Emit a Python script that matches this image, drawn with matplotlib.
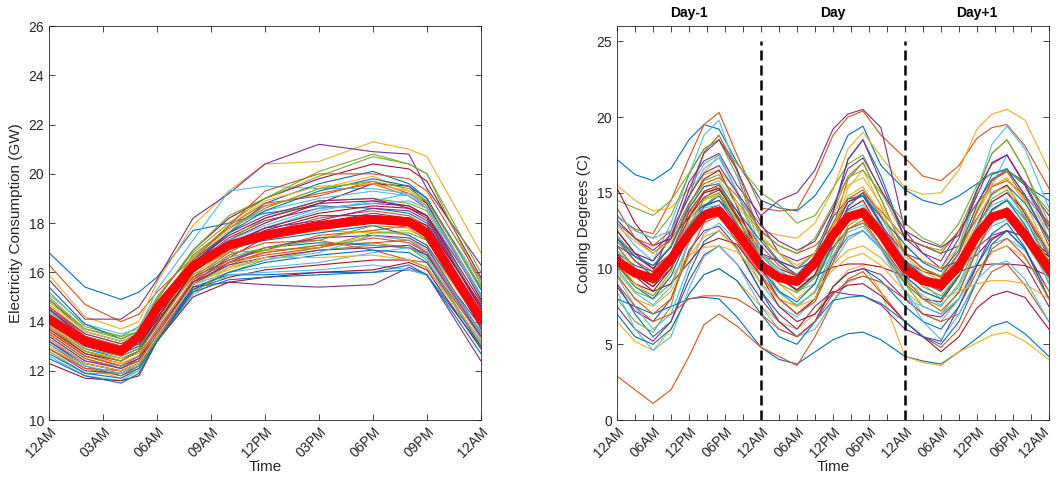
import matplotlib
matplotlib.use("Agg")
import matplotlib.pyplot as plt
from matplotlib.ticker import MultipleLocator
from matplotlib.transforms import ScaledTranslation

# MATLAB default line colours
COLORS = ['#0072BD', '#D95319', '#EDB120', '#7E2F8E', '#77AC30', '#4DBEEE', '#A2142F']

# ---- left panel: electricity consumption (GW), one day ----
HOURS_LEFT = [0, 2, 4, 5, 6, 8, 10, 12, 15, 18, 20, 21, 24]
LEFT_TICKS = ['12AM', '03AM', '06AM', '09AM', '12PM', '03PM', '06PM', '09PM', '12AM']

load_mean = [14.1, 13.2, 12.8, 13.4, 14.55, 16.25, 17.1, 17.5, 17.9, 18.15, 18.05, 17.6, 14.1]

load_days = [
    [16.8, 15.4, 14.9, 15.2, 15.8, 17.7, 18.0, 18.4, 18.7, 18.6, 18.4, 18.0, 14.6],
    [16.3, 14.7, 14.0, 14.3, 15.2, 16.6, 17.8, 18.7, 19.2, 19.6, 19.1, 18.6, 15.0],
    [15.9, 14.2, 13.7, 14.0, 15.6, 17.9, 19.3, 20.4, 20.5, 21.3, 21.0, 20.7, 16.8],
    [15.7, 14.1, 14.1, 14.6, 15.7, 18.2, 19.2, 20.4, 21.2, 20.9, 20.8, 19.4, 16.3],
    [15.2, 13.8, 13.4, 13.8, 15.0, 16.8, 18.0, 19.0, 20.1, 20.8, 20.4, 20.0, 16.0],
    [15.1, 13.9, 13.5, 13.7, 15.3, 17.3, 19.3, 19.5, 19.4, 19.4, 19.2, 18.9, 15.6],
    [14.9, 13.6, 13.2, 13.5, 14.9, 16.9, 18.2, 19.0, 19.8, 20.4, 20.2, 19.7, 15.8],
    [15.4, 13.9, 13.3, 13.6, 14.8, 16.4, 17.6, 18.8, 19.6, 20.1, 19.6, 19.0, 15.4],
    [14.6, 13.4, 13.0, 13.3, 14.7, 16.6, 17.9, 18.8, 19.1, 19.7, 19.2, 18.8, 15.1],
    [14.7, 13.5, 13.1, 13.5, 14.8, 16.5, 17.7, 18.6, 19.4, 19.9, 19.3, 18.7, 14.9],
    [14.5, 13.4, 13.0, 13.2, 14.5, 16.3, 17.4, 18.1, 18.6, 18.8, 18.7, 18.3, 14.6],
    [14.4, 13.2, 12.9, 13.2, 14.4, 16.2, 17.3, 18.2, 18.9, 19.0, 18.8, 18.5, 14.5],
    [14.2, 13.0, 12.7, 13.0, 14.5, 16.1, 17.0, 17.8, 18.5, 18.9, 19.2, 18.7, 14.3],
    [14.1, 13.0, 12.6, 12.9, 14.3, 16.0, 17.3, 18.0, 18.8, 19.6, 19.5, 18.8, 14.9],
    [14.0, 12.9, 12.5, 12.8, 14.2, 15.8, 16.5, 17.0, 17.2, 17.1, 17.0, 16.7, 13.8],
    [13.8, 12.7, 12.3, 12.6, 14.0, 15.8, 16.8, 17.6, 18.2, 18.5, 18.3, 17.9, 14.0],
    [13.7, 12.6, 12.3, 12.6, 13.4, 15.6, 16.1, 16.6, 17.0, 17.5, 17.3, 17.0, 13.9],
    [13.6, 12.6, 12.2, 12.5, 13.4, 15.6, 16.6, 17.4, 18.0, 18.4, 18.2, 17.8, 13.7],
    [13.5, 12.5, 12.1, 12.4, 13.3, 15.5, 16.3, 16.8, 17.1, 17.2, 17.0, 16.8, 13.6],
    [13.4, 12.4, 12.2, 12.4, 13.3, 15.5, 16.0, 16.2, 16.4, 16.8, 17.0, 16.6, 13.3],
    [13.3, 12.3, 12.0, 12.3, 13.3, 15.3, 15.8, 16.1, 16.3, 16.5, 16.5, 16.2, 13.2],
    [13.2, 12.2, 11.8, 12.2, 13.2, 15.4, 15.9, 15.9, 16.0, 16.0, 16.1, 15.9, 13.0],
    [13.1, 12.1, 11.8, 12.1, 13.3, 15.5, 16.4, 16.7, 17.0, 17.4, 17.2, 16.8, 13.5],
    [13.0, 12.1, 11.7, 12.0, 13.3, 15.2, 16.2, 16.9, 17.4, 17.7, 17.5, 17.1, 13.4],
    [12.9, 12.0, 11.9, 12.2, 13.4, 15.4, 15.6, 15.5, 15.4, 15.5, 16.2, 15.9, 12.4],
    [12.8, 11.9, 11.9, 12.2, 13.3, 15.2, 16.0, 16.5, 16.9, 17.1, 17.0, 16.5, 13.1],
    [12.6, 11.8, 11.6, 12.0, 13.2, 15.1, 15.9, 16.0, 16.1, 16.3, 16.1, 15.9, 13.2],
    [12.3, 11.7, 11.6, 11.8, 13.2, 15.0, 15.6, 15.8, 16.0, 16.1, 16.4, 16.1, 12.9],
    [12.5, 11.8, 11.5, 11.9, 13.2, 15.2, 15.7, 15.8, 15.9, 16.0, 16.3, 15.9, 12.7],
    [12.9, 12.1, 12.0, 12.3, 13.5, 15.6, 16.5, 16.9, 17.5, 17.7, 17.9, 17.6, 14.2],
    [14.3, 13.1, 12.8, 13.1, 14.4, 16.4, 17.1, 17.4, 17.7, 17.6, 17.7, 17.4, 14.4],
    [14.6, 13.5, 13.1, 13.4, 14.6, 16.5, 17.6, 18.3, 18.9, 19.0, 18.6, 18.3, 15.1],
    [15.0, 13.7, 13.4, 13.6, 14.9, 16.9, 18.3, 19.0, 19.9, 20.7, 20.4, 20.0, 15.5],
    [14.8, 13.6, 13.2, 13.5, 14.6, 16.5, 17.3, 17.9, 18.6, 18.8, 18.9, 18.6, 15.0],
    [13.9, 12.8, 12.4, 12.8, 14.0, 16.0, 17.0, 17.7, 18.3, 18.3, 18.2, 17.9, 14.7],
    [14.5, 13.3, 12.9, 13.3, 14.4, 16.3, 17.0, 17.3, 17.6, 17.9, 17.5, 17.1, 14.0],
    [13.5, 12.5, 12.1, 12.4, 13.4, 15.7, 16.7, 17.2, 17.3, 16.9, 16.5, 16.4, 13.4],
    [13.9, 12.8, 12.5, 12.7, 13.9, 15.9, 16.9, 17.5, 18.0, 18.1, 18.2, 17.8, 14.2],
    [13.2, 12.3, 12.0, 12.3, 13.4, 15.5, 16.4, 17.0, 17.4, 17.5, 17.4, 17.0, 13.5],
    [14.0, 12.9, 12.6, 12.9, 14.1, 16.1, 16.8, 16.9, 17.0, 17.6, 17.6, 17.3, 14.0],
    [14.4, 13.3, 12.9, 13.3, 14.3, 16.7, 17.8, 18.5, 19.0, 19.3, 19.1, 18.7, 15.1],
    [13.7, 12.7, 12.4, 12.8, 13.9, 16.0, 17.1, 17.8, 18.4, 18.7, 18.6, 18.2, 14.5],
    [14.2, 13.1, 12.7, 13.0, 14.1, 16.3, 17.6, 18.5, 19.3, 19.8, 19.5, 19.0, 15.3],
    [13.6, 12.6, 12.2, 12.6, 13.7, 15.7, 16.4, 16.8, 17.1, 17.2, 17.3, 16.8, 13.5],
    [14.8, 13.6, 13.2, 13.5, 14.4, 16.6, 17.9, 18.9, 19.5, 19.6, 19.3, 18.9, 15.4],
    [13.4, 12.4, 12.1, 12.5, 13.6, 15.6, 16.3, 16.6, 16.9, 17.0, 17.1, 16.7, 13.4],
    [14.9, 13.7, 13.3, 13.6, 14.5, 16.7, 17.8, 18.6, 19.4, 19.7, 19.4, 18.9, 15.4],
    [13.1, 12.2, 11.9, 12.3, 13.4, 15.5, 16.2, 16.5, 16.8, 17.5, 17.3, 16.9, 13.5],
    [14.3, 13.2, 12.8, 13.1, 14.1, 16.4, 17.5, 18.2, 18.8, 18.9, 18.7, 18.3, 14.8],
    [12.7, 11.9, 11.7, 12.1, 13.2, 15.3, 16.0, 16.4, 16.7, 16.9, 16.8, 16.4, 13.0],
    [14.6, 13.4, 13.0, 13.4, 14.3, 16.5, 17.9, 19.3, 20.0, 20.0, 19.8, 19.3, 15.7],
    [13.3, 12.3, 12.0, 12.3, 13.4, 15.5, 16.2, 16.6, 16.6, 16.7, 16.5, 16.2, 13.2],
    [14.5, 13.3, 12.9, 13.3, 14.3, 16.2, 17.2, 17.8, 18.1, 18.6, 18.5, 18.1, 14.6],
    [13.8, 12.8, 12.4, 12.8, 13.8, 15.9, 16.6, 17.0, 17.3, 17.9, 17.8, 17.3, 14.1],
]

# ---- right panel: cooling degrees (C), three days ----
HOURS_RIGHT = [0, 3, 6, 9, 12, 14.5, 17, 20,
               24, 27, 30, 33, 36, 38.5, 41, 44,
               48, 51, 54, 57, 60, 62.5, 65, 68, 72]
RIGHT_TICKS = ['12AM', '06AM', '12PM', '06PM'] * 3 + ['12AM']
DAY_NAMES = ['Day-1', 'Day', 'Day+1']

temp_mean = [10.5, 9.7, 9.35, 10.6, 12.3, 13.5, 13.8, 12.4,
             10.2, 9.4, 9.15, 10.4, 12.2, 13.4, 13.7, 12.3,
             10.0, 9.2, 8.95, 10.2, 12.2, 13.4, 13.7, 12.2,
             9.95]

temp_days = [
    [17.2, 16.2, 15.8, 16.6, 18.5, 19.5, 19.2, 17.0, 14.5, 14.0, 13.8, 14.8, 16.6, 18.8, 19.4, 16.8, 15.2, 14.5, 14.2, 14.8, 15.6, 16.3, 16.5, 15.5, 14.5],
    [13.4, 12.6, 12.3, 14.5, 17.3, 19.5, 20.3, 17.5, 14.0, 13.8, 13.9, 16.0, 18.8, 20.0, 20.4, 18.8, 17.3, 16.1, 15.8, 16.8, 18.6, 19.3, 19.5, 18.1, 15.3],
    [15.5, 14.5, 13.8, 14.0, 15.3, 16.2, 16.5, 15.1, 12.5, 12.2, 12.0, 13.0, 15.2, 17.9, 19.0, 17.4, 15.3, 14.9, 15.0, 16.5, 19.2, 20.2, 20.5, 19.8, 16.5],
    [11.0, 10.2, 9.8, 12.5, 15.7, 17.1, 17.6, 15.5, 13.5, 14.5, 15.0, 16.5, 19.2, 20.2, 20.5, 19.3, 12.5, 11.0, 10.5, 12.5, 14.3, 15.9, 16.5, 15.7, 13.5],
    [14.5, 14.0, 13.5, 14.5, 16.3, 17.9, 18.5, 16.9, 15.0, 14.2, 13.0, 13.5, 15.3, 16.9, 17.5, 15.1, 12.0, 11.5, 11.2, 12.5, 15.2, 17.6, 18.5, 16.5, 13.0],
    [12.0, 11.0, 10.5, 13.0, 16.2, 18.8, 19.8, 16.4, 11.0, 9.5, 8.5, 9.0, 11.7, 14.1, 15.0, 13.4, 10.5, 9.0, 8.0, 9.5, 12.8, 14.4, 15.0, 13.4, 10.0],
    [15.3, 13.0, 11.5, 12.0, 13.4, 14.7, 15.2, 13.8, 11.0, 10.0, 9.5, 10.0, 11.4, 12.6, 13.0, 12.2, 10.5, 9.8, 9.5, 10.2, 10.9, 12.0, 12.5, 12.1, 10.8],
    [8.0, 7.5, 7.0, 7.5, 8.0, 8.1, 8.0, 6.8, 4.8, 4.0, 3.7, 4.5, 5.3, 5.7, 5.8, 5.3, 4.2, 3.9, 3.7, 4.5, 5.4, 6.2, 6.5, 5.7, 4.2],
    [2.9, 2.0, 1.1, 2.0, 4.2, 6.3, 7.0, 6.2, 4.8, 4.2, 3.6, 5.5, 7.8, 9.3, 9.8, 8.4, 6.5, 5.5, 4.8, 6.0, 8.3, 9.8, 10.3, 8.9, 6.5],
    [6.5, 5.2, 4.6, 6.0, 8.3, 9.6, 10.0, 9.2, 7.5, 6.5, 6.0, 7.0, 8.8, 9.9, 10.2, 8.5, 4.2, 3.8, 3.6, 4.5, 5.1, 5.6, 5.8, 5.2, 4.0],
    [8.8, 7.2, 6.5, 8.0, 11.2, 12.5, 12.8, 11.4, 8.5, 7.0, 6.0, 7.5, 8.5, 8.3, 8.2, 7.6, 6.0, 5.5, 5.2, 7.5, 9.8, 11.1, 11.5, 10.3, 7.5],
    [10.0, 8.5, 8.0, 9.0, 11.7, 14.1, 15.0, 13.4, 10.5, 8.5, 7.5, 8.5, 10.8, 12.8, 13.5, 11.9, 9.0, 7.5, 7.0, 8.5, 11.3, 13.3, 14.0, 12.8, 9.5],
    [9.5, 7.5, 6.0, 7.0, 10.2, 12.3, 13.0, 11.8, 9.0, 7.5, 6.8, 8.0, 10.3, 11.9, 12.5, 11.3, 8.5, 7.0, 6.5, 8.0, 10.3, 11.6, 12.0, 11.2, 8.5],
    [11.5, 10.0, 9.5, 11.0, 13.7, 15.1, 15.5, 13.5, 10.0, 8.0, 7.0, 8.0, 10.7, 12.1, 12.5, 11.3, 9.0, 8.0, 7.8, 9.5, 12.3, 13.9, 14.5, 13.3, 10.5],
    [9.0, 7.0, 5.5, 6.5, 9.7, 11.8, 12.5, 11.3, 8.5, 6.5, 5.5, 6.5, 8.8, 9.7, 10.0, 9.2, 7.5, 6.5, 6.0, 7.5, 10.2, 12.3, 13.0, 11.4, 8.0],
    [13.0, 12.0, 11.5, 12.5, 14.7, 17.7, 18.8, 16.6, 12.0, 10.5, 9.5, 10.0, 12.7, 15.9, 17.0, 14.6, 11.0, 10.0, 9.5, 11.0, 13.7, 15.8, 16.5, 14.9, 11.5],
    [10.8, 9.5, 9.0, 10.5, 13.2, 16.3, 17.5, 15.1, 10.5, 9.0, 8.0, 9.0, 12.2, 15.3, 16.5, 14.1, 10.0, 9.0, 8.5, 10.5, 13.7, 15.4, 16.0, 14.4, 11.0],
    [7.5, 6.0, 5.2, 6.5, 9.2, 10.9, 11.5, 10.3, 8.0, 6.5, 5.5, 6.5, 8.8, 9.7, 10.0, 9.6, 8.0, 7.0, 6.8, 8.0, 10.2, 11.9, 12.5, 11.3, 8.5],
    [8.0, 6.5, 5.8, 7.5, 12.1, 14.6, 15.5, 13.5, 10.0, 8.5, 7.5, 8.5, 11.2, 13.3, 14.0, 12.4, 9.5, 8.5, 8.0, 9.5, 11.7, 13.8, 14.5, 13.3, 10.5],
    [13.0, 11.5, 10.5, 12.0, 15.2, 16.9, 17.5, 15.1, 11.0, 9.5, 8.5, 9.5, 11.7, 14.1, 15.0, 13.0, 10.5, 9.5, 9.0, 11.0, 15.1, 18.2, 19.4, 17.9, 14.0],
    [10.2, 9.0, 8.5, 10.0, 12.3, 13.6, 14.0, 12.8, 10.5, 9.5, 9.0, 9.5, 10.1, 10.3, 10.3, 10.1, 9.5, 9.2, 9.0, 9.8, 10.2, 10.3, 10.3, 10.2, 9.5],
    [12.0, 10.5, 9.5, 10.5, 12.8, 14.1, 14.5, 13.3, 11.0, 10.5, 10.0, 11.0, 13.7, 17.2, 18.5, 16.1, 12.0, 11.5, 11.0, 11.5, 13.3, 14.9, 15.5, 14.3, 12.0],
    [14.0, 12.0, 11.0, 12.0, 14.3, 15.6, 16.0, 14.8, 12.5, 11.5, 11.0, 11.5, 12.8, 14.4, 15.0, 13.8, 12.0, 11.5, 11.0, 12.5, 14.3, 15.4, 15.8, 14.8, 13.0],
    [10.5, 9.0, 8.2, 9.5, 10.9, 11.4, 11.5, 11.1, 9.5, 8.0, 7.5, 8.5, 9.9, 10.7, 11.0, 10.2, 8.5, 7.5, 7.0, 8.0, 9.8, 11.1, 11.5, 10.7, 8.5],
    [11.5, 10.8, 10.0, 11.0, 13.3, 14.2, 14.5, 12.9, 10.8, 10.5, 10.0, 10.5, 11.8, 13.4, 14.0, 12.8, 11.0, 10.5, 10.0, 10.5, 11.4, 12.2, 12.5, 12.1, 11.0],
    [13.5, 12.5, 12.0, 13.5, 16.2, 17.9, 18.5, 16.1, 12.0, 11.0, 10.0, 11.0, 13.7, 16.1, 17.0, 14.6, 11.0, 10.0, 9.5, 11.5, 15.1, 17.6, 18.5, 16.5, 12.5],
    [8.5, 6.0, 4.6, 5.5, 8.7, 10.8, 11.5, 10.3, 7.5, 6.0, 5.5, 6.0, 7.8, 9.1, 9.5, 9.1, 8.0, 7.5, 7.0, 8.0, 10.5, 15.5, 17.5, 15.5, 12.0],
    [11.0, 9.5, 8.5, 9.0, 10.4, 11.6, 12.0, 11.6, 9.5, 7.5, 6.5, 7.0, 8.4, 8.9, 9.0, 8.2, 6.5, 5.5, 4.5, 5.5, 7.4, 8.2, 8.5, 8.1, 6.0],
    [7.0, 5.5, 5.0, 6.0, 8.3, 9.6, 10.0, 9.2, 7.0, 5.5, 5.0, 6.5, 7.9, 8.1, 8.2, 7.7, 6.5, 5.5, 5.0, 6.5, 9.2, 11.6, 12.5, 11.3, 8.0],
    [9.0, 7.5, 6.5, 7.0, 8.0, 8.2, 8.2, 8.0, 7.0, 6.0, 5.5, 6.5, 8.3, 9.2, 9.5, 9.1, 8.0, 7.0, 6.5, 7.0, 9.2, 11.3, 12.0, 10.8, 8.0],
    [9.5, 8.0, 7.5, 8.5, 10.8, 12.1, 12.5, 11.3, 9.0, 8.0, 7.5, 8.0, 10.3, 11.2, 11.5, 10.7, 9.0, 8.5, 8.0, 8.5, 9.0, 9.2, 9.2, 9.0, 8.0],
    [12.5, 11.0, 10.5, 12.0, 15.2, 17.6, 18.5, 16.5, 13.0, 11.0, 10.5, 11.0, 13.7, 17.2, 18.5, 15.7, 12.0, 11.0, 10.0, 12.0, 15.2, 16.9, 17.5, 15.5, 12.5],
    [11.5, 10.0, 9.0, 10.0, 12.3, 13.6, 14.0, 12.8, 10.5, 9.5, 8.5, 9.5, 11.3, 12.6, 13.0, 11.4, 9.0, 8.0, 7.5, 9.0, 11.7, 13.4, 14.0, 12.4, 9.0],
    [13.5, 12.5, 12.0, 12.5, 14.7, 16.6, 17.3, 15.1, 11.0, 10.0, 9.0, 9.5, 10.9, 12.1, 12.5, 11.3, 8.5, 6.5, 5.3, 7.0, 9.3, 10.2, 10.5, 9.3, 6.5],
    [12.5, 11.0, 10.0, 11.5, 14.2, 15.9, 16.5, 14.1, 10.5, 9.5, 9.0, 10.0, 12.3, 13.9, 14.5, 12.5, 10.5, 9.5, 9.0, 10.5, 12.8, 14.4, 15.0, 13.8, 11.0],
    [10.2, 8.8, 8.0, 9.5, 12.2, 14.1, 14.8, 13.0, 10.0, 8.5, 7.8, 9.0, 11.7, 14.1, 15.0, 13.0, 9.5, 8.5, 8.0, 9.5, 12.2, 13.9, 14.5, 12.9, 10.0],
    [11.8, 10.5, 9.8, 11.0, 13.8, 15.0, 15.3, 13.5, 11.5, 10.2, 9.5, 10.5, 13.0, 14.6, 15.2, 13.5, 11.0, 10.0, 9.4, 11.0, 13.8, 15.8, 16.4, 14.6, 12.0],
    [12.8, 11.8, 11.0, 11.8, 14.0, 15.4, 15.8, 14.2, 12.2, 11.0, 10.2, 11.0, 13.5, 15.5, 16.0, 14.2, 11.5, 10.5, 10.0, 11.5, 14.0, 15.5, 15.9, 14.5, 12.5],
    [10.8, 9.6, 8.8, 10.0, 12.5, 13.8, 14.2, 12.6, 10.6, 9.4, 8.6, 9.6, 12.0, 13.5, 13.9, 12.4, 10.2, 9.1, 8.5, 9.8, 12.3, 13.6, 14.0, 12.6, 10.2],
    [12.2, 10.8, 10.2, 11.5, 14.2, 15.8, 16.2, 14.4, 12.4, 11.5, 11.0, 12.0, 14.2, 16.0, 16.5, 15.0, 13.0, 12.0, 11.5, 13.0, 15.5, 16.3, 16.5, 15.6, 13.8],
    [9.8, 8.4, 7.6, 8.8, 11.8, 13.4, 13.8, 12.2, 9.8, 8.4, 7.6, 8.4, 10.8, 12.4, 12.8, 11.4, 9.2, 8.2, 7.6, 8.8, 11.4, 12.8, 13.2, 11.8, 9.2],
    [10.8, 9.6, 8.8, 10.4, 13.4, 15.0, 15.3, 13.4, 10.6, 9.3, 8.6, 9.6, 12.4, 14.4, 14.8, 12.9, 10.4, 9.2, 8.6, 9.8, 12.8, 15.0, 15.5, 13.6, 10.8],
    [12.0, 10.8, 10.2, 11.4, 14.0, 15.4, 15.6, 13.8, 11.8, 10.4, 9.6, 10.8, 13.4, 14.6, 14.8, 13.4, 11.6, 10.4, 9.8, 11.2, 14.2, 16.2, 16.6, 14.8, 11.8],
    [9.6, 8.0, 7.0, 8.0, 11.0, 13.0, 13.5, 11.8, 9.6, 8.0, 7.0, 7.8, 10.4, 12.6, 13.2, 11.5, 9.4, 8.0, 7.2, 8.4, 11.2, 13.2, 13.8, 12.0, 9.4],
    [11.2, 10.0, 9.4, 10.6, 13.2, 14.5, 14.9, 13.2, 11.0, 9.8, 9.2, 10.2, 12.8, 14.8, 15.4, 13.6, 10.8, 9.8, 9.2, 10.4, 13.2, 15.0, 15.4, 13.8, 11.2],
    [13.2, 12.0, 11.2, 12.2, 14.8, 16.3, 16.8, 15.0, 12.8, 11.8, 11.2, 11.8, 14.0, 16.6, 17.3, 15.2, 12.5, 11.8, 11.4, 12.2, 14.8, 17.0, 17.5, 15.6, 12.8],
    [10.2, 8.8, 8.2, 9.8, 12.8, 14.6, 15.0, 13.0, 10.2, 9.0, 8.4, 9.4, 12.0, 13.5, 13.8, 12.2, 10.0, 8.8, 8.2, 9.6, 12.6, 14.6, 15.2, 13.4, 10.4],
    [11.2, 10.0, 9.4, 10.6, 13.0, 14.0, 14.2, 12.8, 10.8, 9.8, 9.2, 10.2, 12.4, 13.8, 14.2, 12.8, 10.6, 9.6, 9.0, 10.4, 12.8, 14.2, 14.6, 13.2, 11.0],
]


def style_axes(ax):
    ax.tick_params(which='both', direction='in', top=True, right=True,
                   colors='#262626', labelsize=10, length=4, width=0.6)
    for s in ax.spines.values():
        s.set_color('#262626')
        s.set_linewidth(0.6)
    for lab in ax.get_xticklabels():
        lab.set_rotation(45)
        lab.set_ha('right')
        lab.set_rotation_mode('anchor')


plt.rcParams['font.family'] = ['Liberation Sans', 'DejaVu Sans']
plt.rcParams['text.color'] = '#262626'
plt.rcParams['axes.labelcolor'] = '#262626'

fig = plt.figure(figsize=(10.56, 4.79), dpi=100)

# left panel
ax1 = fig.add_axes([0.0464, 0.123, 0.409, 0.8225])
for i, row in enumerate(load_days):
    ax1.plot(HOURS_LEFT, row, color=COLORS[i % 7], lw=0.8)
ax1.plot(HOURS_LEFT, load_mean, color='#FF0000', lw=6.5, solid_joinstyle='round')
ax1.set_xlim(0, 24)
ax1.set_ylim(10, 26)
ax1.set_xticks(range(0, 25, 3))
ax1.set_xticklabels(LEFT_TICKS)
ax1.yaxis.set_major_locator(MultipleLocator(2))
ax1.set_xlabel('Time', fontsize=11, labelpad=0)
ax1.set_ylabel('Electricity Consumption (GW)', fontsize=11)
style_axes(ax1)

# right panel
ax2 = fig.add_axes([0.5843, 0.123, 0.409, 0.8225])
for i, row in enumerate(temp_days):
    ax2.plot(HOURS_RIGHT, row, color=COLORS[i % 7], lw=0.8)
ax2.plot(HOURS_RIGHT, temp_mean, color='#FF0000', lw=6.5, solid_joinstyle='round')
for d in (24, 48):
    ax2.plot([d, d], [0, 25], color='black', lw=1.8, ls=(0, (4, 2)))
for k, name in enumerate(DAY_NAMES):
    ax2.text(12 + 24 * k, 1.033, name, transform=ax2.get_xaxis_transform(),
             ha='center', va='center', fontsize=10, fontweight='bold', color='black')
ax2.set_xlim(0, 72)
ax2.set_ylim(0, 26)
ax2.set_xticks(range(0, 73, 6))
ax2.set_xticklabels(RIGHT_TICKS)
ax2.xaxis.set_minor_locator(MultipleLocator(3))
ax2.yaxis.set_major_locator(MultipleLocator(5))
ax2.set_xlabel('Time', fontsize=11, labelpad=0)
ax2.set_ylabel('Cooling Degrees (C)', fontsize=11)
style_axes(ax2)
ax2.tick_params(which='minor', length=4)

# keep the last tick label inside the figure edge
last = ax2.get_xticklabels()[-1]
last.set_transform(last.get_transform() + ScaledTranslation(-5 / 72, 0, fig.dpi_scale_trans))

fig.savefig('out.png', dpi=100)
